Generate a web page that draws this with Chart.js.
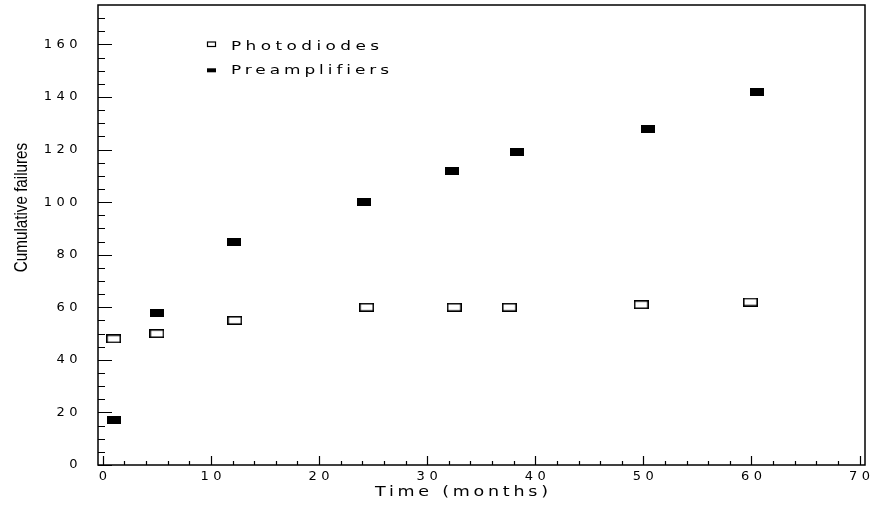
<!DOCTYPE html>
<html>
<head>
<meta charset="utf-8">
<script src="https://cdn.jsdelivr.net/npm/chart.js@4.4.0/dist/chart.umd.min.js"></script>
<style>
  html, body { margin: 0; padding: 0; background: #fff; }
  #wrap { width: 872px; height: 505px; }
</style>
</head>
<body>
<div id="wrap"><canvas id="chart-area"></canvas></div>
<script>
// values
var photoMonths = [1, 5, 12.2, 24.4, 32.5, 37.6, 49.8, 59.9];
var photoFailures = [48, 50, 55, 60, 60, 60, 61, 62];
var preampMonths = [1, 5, 12.1, 24.2, 32.3, 38.3, 50.4, 60.5];
var preampFailures = [17, 58, 85, 100, 112, 119, 128, 142];
var seriesNames = ['Photodiodes', 'Preamplifiers'];
var xTitle = 'Time (months)';
var yTitle = 'Cumulative failures';

var toPoints = function(xs, ys) {
    var pts = [];
    for(var i = 0; i < xs.length; i++) {
        pts.push({x: xs[i], y: ys[i]});
    }
    return pts;
};

var makeBox = function(w, h, filled) {
    var c = document.createElement('canvas');
    c.width = w;
    c.height = h;
    var g = c.getContext('2d');
    if(filled) {
        g.fillStyle = '#000';
        g.fillRect(0, 0, w, h);
    } else {
        g.strokeStyle = '#000';
        g.lineWidth = 1.6;
        g.strokeRect(0.8, 0.8, w - 1.6, h - 1.6);
    }
    return c;
};

// wide, spaced-out text (the original uses a stroke font)
var spacedText = function(ctx, text, x, y, width, sx) {
    ctx.save();
    ctx.letterSpacing = '0px';
    var w = ctx.measureText(text).width;
    var sp = (width / sx - w) / (text.length - 1);
    ctx.letterSpacing = sp + 'px';
    ctx.translate(x, y);
    ctx.scale(sx, 1);
    ctx.fillText(text, 0, 0);
    ctx.restore();
};

// keep the plot box where the original has it
var noPad = function(scale) {
    scale.paddingTop = 0;
    scale.paddingBottom = 0;
    scale.paddingLeft = 0;
    scale.paddingRight = 0;
};

var decorPlugin = {
    id: 'decor',
    beforeDraw: function(chart) {
        chart.ctx.letterSpacing = '4.5px';
    },
    afterDraw: function(chart) {
        var ctx = chart.ctx,
            area = chart.chartArea,
            xs = chart.scales.x,
            ys = chart.scales.y;
        ctx.save();
        ctx.letterSpacing = '0px';
        ctx.strokeStyle = '#000';
        ctx.lineWidth = 1.5;
        ctx.strokeRect(area.left, area.top, area.right - area.left, area.bottom - area.top);

        ctx.lineWidth = 1.2;
        ctx.beginPath();
        // y ticks: major 20, minor 5
        for(var v = 0; v <= 170; v += 5) {
            var py = Math.round(ys.getPixelForValue(v)) + 0.5;
            var len = (v % 20 === 0) ? 14 : 7;
            ctx.moveTo(area.left, py);
            ctx.lineTo(area.left + len, py);
        }
        // x ticks: major 10, minor 2
        for(var m = 0; m <= 70; m += 2) {
            var px = Math.round(xs.getPixelForValue(m)) + 0.5;
            var l = (m % 10 === 0) ? 9 : 4;
            ctx.moveTo(px, area.bottom);
            ctx.lineTo(px, area.bottom - l);
        }
        ctx.stroke();

        // legend
        ctx.fillStyle = '#000';
        ctx.font = '13px "DejaVu Sans"';
        ctx.textBaseline = 'alphabetic';
        ctx.textAlign = 'left';
        ctx.lineWidth = 1.2;
        ctx.strokeRect(207.5, 42, 8, 4.5);
        spacedText(ctx, seriesNames[0], 231, 49.5, 148, 1.3);
        ctx.fillRect(207, 68.3, 9, 4);
        spacedText(ctx, seriesNames[1], 231, 73.5, 158, 1.3);

        // axis titles
        ctx.font = '14px "DejaVu Sans"';
        spacedText(ctx, xTitle, 375, 496, 173, 1.25);

        ctx.translate(26.5, 207.5);
        ctx.rotate(-Math.PI / 2);
        ctx.scale(0.8, 1);
        ctx.font = '19px "Liberation Sans"';
        ctx.textAlign = 'center';
        ctx.fillText(yTitle, 0, 0);
        ctx.restore();
    }
};

var config = {
    type: 'scatter',
    data: {
        datasets: [{
            label: seriesNames[0],
            data: toPoints(photoMonths, photoFailures),
            pointStyle: makeBox(15, 9, false),
            borderColor: '#000',
            backgroundColor: '#fff'
        }, {
            label: seriesNames[1],
            data: toPoints(preampMonths, preampFailures),
            pointStyle: makeBox(14, 8, true),
            borderColor: '#000',
            backgroundColor: '#000'
        }]
    },
    options: {
        responsive: true,
        maintainAspectRatio: false,
        animation: false,
        events: [],
        layout: { padding: { top: 4, right: 7, left: 0, bottom: 0 } },
        plugins: {
            legend: { display: false },
            tooltip: { enabled: false }
        },
        scales: {
            x: {
                type: 'linear',
                min: -0.45,
                max: 70.5,
                grid: { display: false, drawTicks: false },
                border: { display: false },
                ticks: {
                    stepSize: 10,
                    includeBounds: false,
                    color: '#000',
                    padding: 4,
                    labelOffset: 2.2,
                    maxRotation: 0,
                    font: { family: 'DejaVu Sans', size: 13 }
                },
                afterFit: function(scale) {
                    scale.height = 40;
                    noPad(scale);
                }
            },
            y: {
                min: 0,
                max: 175,
                grid: { display: false, drawTicks: false },
                border: { display: false },
                ticks: {
                    stepSize: 20,
                    includeBounds: false,
                    color: '#000',
                    padding: 16,
                    font: { family: 'DejaVu Sans', size: 13 }
                },
                afterFit: function(scale) {
                    scale.width = 98;
                    noPad(scale);
                }
            }
        }
    },
    plugins: [decorPlugin]
};

var ctx = document.getElementById('chart-area').getContext('2d');
window.myChart = new Chart(ctx, config);
</script>
</body>
</html>
